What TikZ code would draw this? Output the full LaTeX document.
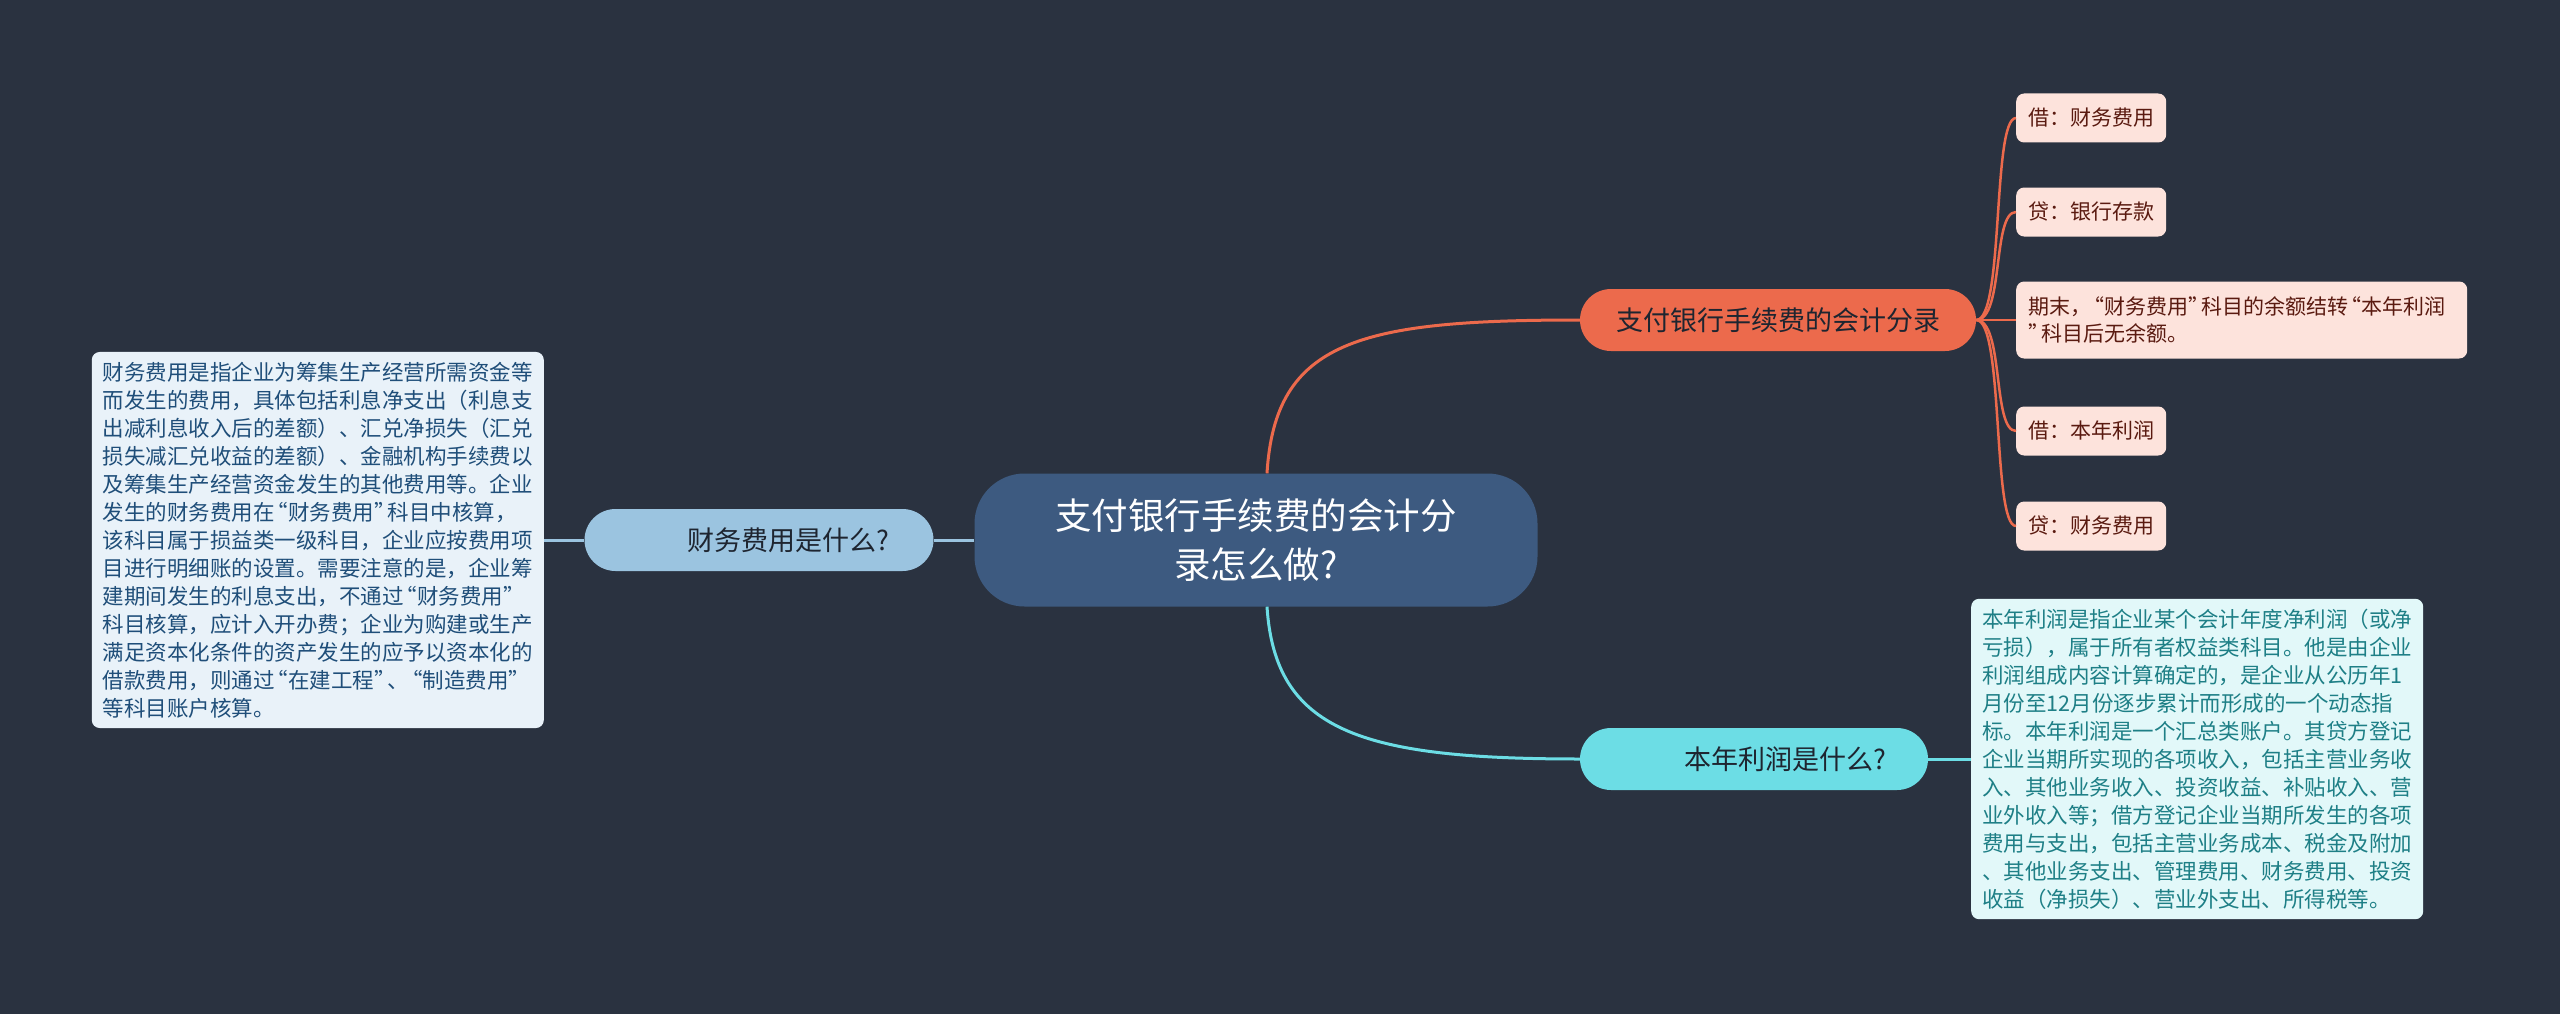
\documentclass[tikz,border=0pt]{standalone}
\usepackage{fontspec}
\setmainfont{Noto Sans CJK SC}
\newcommand\myoq{\makebox[0.63em][r]{“}}
\newcommand\mycq{\makebox[0.63em][l]{”}}
\definecolor{bgc}{HTML}{2A3240}
\definecolor{centerc}{HTML}{3D5A80}
\definecolor{lbluec}{HTML}{9BC4E0}
\definecolor{lboxc}{HTML}{E9F2F9}
\definecolor{ltextc}{HTML}{1F4E79}
\definecolor{orangec}{HTML}{EC6A4C}
\definecolor{leafc}{HTML}{FDE3DC}
\definecolor{leaftextc}{HTML}{5A1A10}
\definecolor{cyanc}{HTML}{6CDDE5}
\definecolor{cboxc}{HTML}{E2F8F9}
\definecolor{ctextc}{HTML}{1E7F86}
\definecolor{darktextc}{HTML}{1E2530}
\tikzset{
  centerbox/.style={fill=centerc, text=white, rounded corners=50pt, minimum width=563pt, minimum height=133pt, align=center, font=\fontsize{36.5}{49}\selectfont, inner sep=0pt},
  topicbox/.style={rounded corners=31pt, minimum height=62pt, inner ysep=0pt, text=darktextc, font=\fontsize{27}{34}\selectfont},
  leafbox/.style={fill=leafc, text=leaftextc, rounded corners=8pt, minimum height=49pt, inner xsep=12pt, inner ysep=6pt, align=left, font=\fontsize{21}{27}\selectfont},
  notebox/.style={rounded corners=8pt, inner xsep=11pt, inner ysep=10pt, align=left, font=\fontsize{21.5}{28}\selectfont},
  conn/.style={line width=3pt},
  leafconn/.style={line width=2.5pt, draw=orangec},
}
\begin{document}
\begin{tikzpicture}[x=1pt, y=-1pt]
\useasboundingbox (0,0) rectangle (2560,1014);
\fill[bgc] (0,0) rectangle (2560,1014);

% center
\node[centerbox] (c) at (1256,540) {支付银行手续费的会计分\\录怎么做?};

% left branch
\node[topicbox, fill=lbluec, minimum width=349pt, text width=261pt, inner xsep=44pt, align=right] (q1) at (759,540) {财务费用是什么?};
\node[notebox, fill=lboxc, text=ltextc, anchor=east] (t1) at (544,540) {财务费用是指企业为筹集生产经营所需资金等\\
而发生的费用，具体包括利息净支出（利息支\\
出减利息收入后的差额）、汇兑净损失（汇兑\\
损失减汇兑收益的差额）、金融机构手续费以\\
及筹集生产经营资金发生的其他费用等。企业\\
发生的财务费用在\myoq 财务费用\mycq 科目中核算，\\
该科目属于损益类一级科目，企业应按费用项\\
目进行明细账的设置。需要注意的是，企业筹\\
建期间发生的利息支出，不通过\myoq 财务费用\mycq\\
科目核算，应计入开办费；企业为购建或生产\\
满足资本化条件的资产发生的应予以资本化的\\
借款费用，则通过\myoq 在建工程\mycq 、\myoq 制造费用\mycq\\
等科目账户核算。};

% top right branch
\node[topicbox, fill=orangec, minimum width=396pt, inner xsep=33pt] (e) at (1778,320) {支付银行手续费的会计分录};
\node[leafbox, anchor=west] (l1) at (2016,118) {借：财务费用};
\node[leafbox, anchor=west] (l2) at (2016,212) {贷：银行存款};
\node[leafbox, anchor=west, minimum height=77pt, text width=427pt] (l3) at (2016,320) {期末，\myoq 财务费用\mycq 科目的余额结转\myoq 本年利润\\\mycq 科目后无余额。};
\node[leafbox, anchor=west] (l4) at (2016,431) {借：本年利润};
\node[leafbox, anchor=west] (l5) at (2016,526) {贷：财务费用};

% bottom right branch
\node[topicbox, fill=cyanc, minimum width=348pt, text width=264pt, inner xsep=42pt, align=right] (q2) at (1754,759) {本年利润是什么?};
\node[notebox, fill=cboxc, text=ctextc, anchor=west] (t2) at (1971,759) {本年利润是指企业某个会计年度净利润（或净\\
亏损），属于所有者权益类科目。他是由企业\\
利润组成内容计算确定的，是企业从公历年1\\
月份至12月份逐步累计而形成的一个动态指\\
标。本年利润是一个汇总类账户。其贷方登记\\
企业当期所实现的各项收入，包括主营业务收\\
入、其他业务收入、投资收益、补贴收入、营\\
业外收入等；借方登记企业当期所发生的各项\\
费用与支出，包括主营业务成本、税金及附加\\
、其他业务支出、管理费用、财务费用、投资\\
收益（净损失）、营业外支出、所得税等。};

% connectors
\draw[conn, draw=lbluec] (c.west) -- (q1.east);
\draw[conn, draw=lbluec] (q1.west) -- (t1.east);
\draw[conn, draw=orangec] ([xshift=11pt]c.north) .. controls +(8,-133) and +(-220,0) .. (e.west);
\draw[conn, draw=cyanc] ([xshift=11pt]c.south) .. controls +(8,124) and +(-220,0) .. (q2.west);
\draw[conn, draw=cyanc] (q2.east) -- (t2.west);
\foreach \l in {l1,l2,l3,l4,l5}{
  \draw[leafconn] (e.east) .. controls +(28,0) and +(-24,0) .. (\l.west);
}
\end{tikzpicture}
\end{document}
